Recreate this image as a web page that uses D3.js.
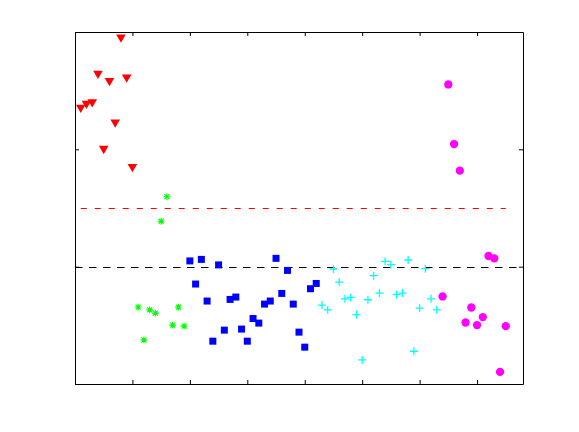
<!DOCTYPE html>
<html>
<head>
<meta charset="utf-8">
<script src="https://cdn.jsdelivr.net/npm/d3@7"></script>
<style>
  body { margin: 0; background: #fff; }
  .axis path, .axis line { stroke: #000; }
</style>
</head>
<body>
<div id="chart"></div>
<script>
// observations are numbered 1..75 in this order, grouped by class
var redVals     = [1.356, 1.391, 1.404, 1.647, 1.006, 1.584, 1.231, 1.955, 1.615, 0.852];
var greenVals   = [-0.344, -0.624, -0.368, -0.396, 0.387, 0.596, -0.498, -0.344, -0.507];
var blueVals    = [0.049, -0.148, 0.062, -0.293, -0.635, 0.015, -0.541, -0.279, -0.259, -0.532,
                   -0.635, -0.442, -0.481, -0.319, -0.293, 0.071, -0.228, -0.032, -0.319, -0.558,
                   -0.686, -0.188, -0.143];
var cyanVals    = [-0.327, -0.368, -0.020, -0.131, -0.274, -0.262, -0.408, -0.795, -0.282, -0.077,
                   -0.225, 0.045, 0.017, -0.239, -0.225, 0.057, -0.721, -0.353, -0.017, -0.274,
                   -0.368];
var magentaVals = [-0.254, 1.553, 1.045, 0.818, -0.476, -0.348, -0.498, -0.430, 0.091, 0.071,
                   -0.897, -0.507];

var refLine = 0.5;     // red dashed threshold
var zeroLine = 0;      // black dashed line
var xTicks = [10, 20, 30, 40, 50, 60, 70];
var yTicks = [-1, 0, 1, 2];

var groups = [
  { name: "red",     vals: redVals,     color: "#ff0000", marker: "tri" },
  { name: "green",   vals: greenVals,   color: "#00ff00", marker: "star" },
  { name: "blue",    vals: blueVals,    color: "#0000ff", marker: "square" },
  { name: "cyan",    vals: cyanVals,    color: "#00ffff", marker: "plus" },
  { name: "magenta", vals: magentaVals, color: "#ff00ff", marker: "circle" }
];

var points = [];
var n = 0;
groups.forEach(function(g) {
  g.vals.forEach(function(v) {
    n += 1;
    points.push({ x: n, y: v, g: g });
  });
});

var width = 579, height = 432;
var margin = { top: 32, right: 56, bottom: 48, left: 75 };

var x = d3.scaleLinear().domain([0, 78]).range([margin.left, width - margin.right]);
var y = d3.scaleLinear().domain([-1, 2]).range([height - margin.bottom, margin.top]);

var svg = d3.select("#chart").append("svg")
  .attr("width", width)
  .attr("height", height);

// reference lines
svg.append("line")
  .attr("x1", x(0)).attr("x2", x(78))
  .attr("y1", Math.round(y(zeroLine)) + 0.5).attr("y2", Math.round(y(zeroLine)) + 0.5)
  .attr("stroke", "#000").attr("stroke-width", 1.2)
  .attr("stroke-dasharray", "7.5,6.5");

svg.append("line")
  .attr("x1", x(1)).attr("x2", x(n))
  .attr("y1", Math.round(y(refLine)) + 0.5).attr("y2", Math.round(y(refLine)) + 0.5)
  .attr("stroke", "#ff0000").attr("stroke-width", 1.2)
  .attr("stroke-dasharray", "6,8");

// markers
var triPath = d3.symbol().type(d3.symbolTriangle).size(40)();
var sqPath = d3.symbol().type(d3.symbolSquare).size(49)();
var circPath = d3.symbol().type(d3.symbolCircle).size(54)();

var marks = svg.append("g").attr("class", "marks");

points.forEach(function(d) {
  var px = x(d.x), py = y(d.y);
  var c = d.g.color;
  if (d.g.marker === "tri") {
    marks.append("path").attr("d", triPath)
      .attr("transform", "translate(" + px + "," + py + ") rotate(180)")
      .attr("fill", c);
  } else if (d.g.marker === "square") {
    marks.append("path").attr("d", sqPath)
      .attr("transform", "translate(" + px + "," + py + ")")
      .attr("fill", c);
  } else if (d.g.marker === "circle") {
    marks.append("path").attr("d", circPath)
      .attr("transform", "translate(" + px + "," + py + ")")
      .attr("fill", c);
  } else if (d.g.marker === "plus") {
    var r = 4;
    marks.append("path")
      .attr("d", "M" + (px - r) + "," + py + "H" + (px + r) + "M" + px + "," + (py - r) + "V" + (py + r))
      .attr("stroke", c).attr("stroke-width", 1.3).attr("fill", "none");
  } else if (d.g.marker === "star") {
    var s = 3.4, t = 2.5;
    marks.append("path")
      .attr("d", "M" + (px - s) + "," + py + "H" + (px + s) +
                 "M" + px + "," + (py - s) + "V" + (py + s) +
                 "M" + (px - t) + "," + (py - t) + "L" + (px + t) + "," + (py + t) +
                 "M" + (px - t) + "," + (py + t) + "L" + (px + t) + "," + (py - t))
      .attr("stroke", c).attr("stroke-width", 1.1).attr("fill", "none");
  }
});

// frame + inward ticks, no labels
var tick = 4;
svg.append("g").attr("class", "axis")
  .attr("transform", "translate(0," + y(-1) + ")")
  .call(d3.axisBottom(x).tickValues(xTicks).tickSizeInner(-tick).tickSizeOuter(0).tickFormat(""));
svg.append("g").attr("class", "axis")
  .attr("transform", "translate(0," + y(2) + ")")
  .call(d3.axisTop(x).tickValues(xTicks).tickSizeInner(-tick).tickSizeOuter(0).tickFormat(""));
svg.append("g").attr("class", "axis")
  .attr("transform", "translate(" + x(0) + ",0)")
  .call(d3.axisLeft(y).tickValues(yTicks).tickSizeInner(-tick).tickSizeOuter(0).tickFormat(""));
svg.append("g").attr("class", "axis")
  .attr("transform", "translate(" + x(78) + ",0)")
  .call(d3.axisRight(y).tickValues(yTicks).tickSizeInner(-tick).tickSizeOuter(0).tickFormat(""));
</script>
</body>
</html>
